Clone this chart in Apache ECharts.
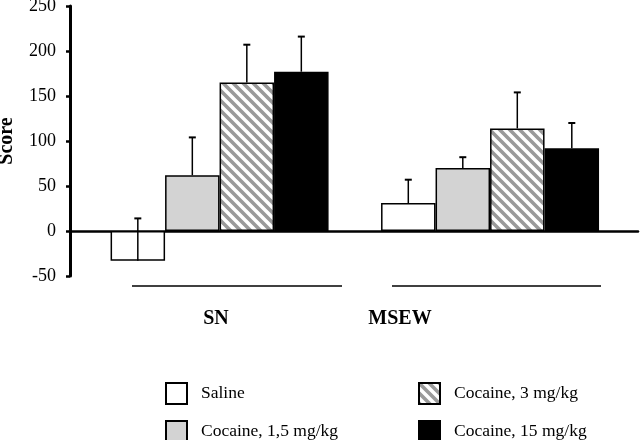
<!DOCTYPE html>
<html><head><meta charset="utf-8">
<script src="https://cdn.jsdelivr.net/npm/echarts@6/dist/echarts.min.js"></script>
<style>html,body{margin:0;padding:0;background:#fff}#c{width:640px;height:440px}</style>
</head><body><div id="c"></div>
<script>
// ---- data ----
const groups = ['SN', 'MSEW'];
const groupPos = [0, 1];
const seriesNames = ['Saline', 'Cocaine, 1,5 mg/kg', 'Cocaine, 3 mg/kg', 'Cocaine, 15 mg/kg'];
const saline = [-33, 31];
const coc15 = [62, 70];
const coc3 = [165, 114];
const coc15mg = [177, 92];
const salineErr = [47, 26];
const coc15Err = [42, 12];
const coc3Err = [42, 40];
const coc15mgErr = [39, 28];
const yTicks = [-50, 0, 50, 100, 150, 200, 250];

// ---- styling ----
const FONT = '"Liberation Serif", "Times New Roman", serif';
const BAR_W = 54.5;
function hatch() {
  const c = document.createElement('canvas');
  c.width = 10; c.height = 10;
  const g = c.getContext('2d');
  g.fillStyle = '#fff'; g.fillRect(0, 0, 10, 10);
  g.strokeStyle = '#9a9a9a'; g.lineWidth = 3.6;
  g.beginPath();
  g.moveTo(-2, -2); g.lineTo(12, 12);
  g.moveTo(-2, 8); g.lineTo(2, 12);
  g.moveTo(8, -2); g.lineTo(12, 2);
  g.stroke();
  return { image: c, repeat: 'repeat' };
}
const values = [saline, coc15, coc3, coc15mg];
const errs = [salineErr, coc15Err, coc3Err, coc15mgErr];
const fills = ['#ffffff', '#d3d3d3', hatch(), '#000000'];

const barSeries = seriesNames.map((n, i) => ({
  name: n, type: 'bar', barWidth: BAR_W, barGap: '0%',
  data: groupPos.map((p, k) => [p, values[i][k]]),
  itemStyle: { color: fills[i], borderColor: '#000', borderWidth: 1.5 },
  emphasis: { disabled: true }, z: 2
}));

const errData = [];
seriesNames.forEach((n, i) => groupPos.forEach((p, k) => errData.push([p, values[i][k], errs[i][k], i])));

const errSeries = {
  type: 'custom', data: errData, z: 5, silent: true,
  renderItem: (params, api) => {
    const x = api.value(0), v = api.value(1), e = api.value(2), idx = api.value(3);
    const off = (idx - (seriesNames.length - 1) / 2) * BAR_W;
    const a = api.coord([x, v]), b = api.coord([x, v + e]);
    const cx = a[0] + off;
    return { type: 'group', children: [
      { type: 'line', shape: { x1: cx, y1: a[1], x2: cx, y2: b[1] }, style: { stroke: '#000', lineWidth: 1.5 } },
      { type: 'line', shape: { x1: cx - 3.5, y1: b[1], x2: cx + 3.5, y2: b[1] }, style: { stroke: '#000', lineWidth: 2 } }
    ]};
  }
};

const legendPos = [[160, 377], [160, 415], [413, 377], [413, 415]];
const legends = seriesNames.map((n, i) => ({
  data: [n], left: legendPos[i][0], top: legendPos[i][1], icon: 'rect',
  itemWidth: 21, itemHeight: 21, selectedMode: false,
  textStyle: { fontFamily: FONT, fontSize: 17.5, color: '#000', padding: [2, 0, 0, 9] }
}));

const chart = echarts.init(document.getElementById('c'), null, { renderer: 'canvas' });
chart.setOption({
  animation: false,
  backgroundColor: '#fff',
  grid: { left: 70, right: 2, top: 6, bottom: 164, containLabel: false, outerBoundsMode: 'none' },
  xAxis: {
    type: 'value', min: -0.553, max: 1.547,
    axisLine: { show: true, onZero: true, lineStyle: { color: '#000', width: 2.5 } },
    axisTick: { show: false }, axisLabel: { show: false }, splitLine: { show: false }
  },
  yAxis: {
    type: 'value', min: yTicks[0], max: yTicks[yTicks.length - 1], interval: 50,
    name: 'Score', nameLocation: 'middle', nameGap: 53,
    nameTextStyle: { fontFamily: FONT, fontWeight: 'bold', fontSize: 20, color: '#000' },
    axisLine: { show: true, onZero: false, lineStyle: { color: '#000', width: 3 } },
    axisTick: { show: true, length: 4, lineStyle: { color: '#000', width: 2.5 } },
    axisLabel: { margin: 14, fontFamily: FONT, fontSize: 18, color: '#000' },
    splitLine: { show: false }
  },
  legend: legends,
  graphic: [
    { type: 'line', shape: { x1: 132, y1: 286, x2: 342, y2: 286 }, style: { stroke: '#000', lineWidth: 1.5 } },
    { type: 'line', shape: { x1: 392, y1: 286, x2: 601, y2: 286 }, style: { stroke: '#000', lineWidth: 1.5 } },
    { type: 'text', x: 216, y: 319, style: { text: groups[0], font: 'bold 20px ' + FONT, fill: '#000', align: 'center', verticalAlign: 'middle' } },
    { type: 'text', x: 400, y: 319, style: { text: groups[1], font: 'bold 20px ' + FONT, fill: '#000', align: 'center', verticalAlign: 'middle' } }
  ],
  series: [...barSeries, errSeries]
});
</script></body></html>
